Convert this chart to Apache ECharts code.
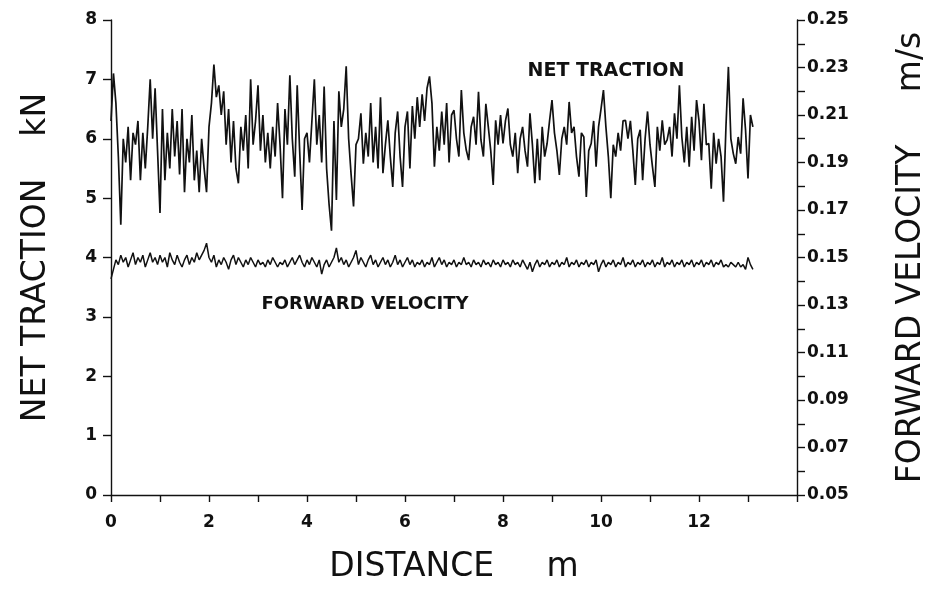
<!DOCTYPE html>
<html>
<head>
<meta charset="utf-8">
<script src="https://cdn.jsdelivr.net/npm/echarts@6/dist/echarts.min.js"></script>
<style>
html,body{margin:0;padding:0;background:#fff;overflow:hidden;}
#chart{width:926px;height:608px;}
</style>
</head>
<body>
<div id="chart"></div>
<script>
// Sampling step along distance (m)
const distanceStep = 0.05;

// Net traction, kN (one value every 0.05 m from 0 to 13.1 m)
const netTraction = [
6.3,7.1,6.6,5.7,4.55,6.0,5.6,6.2,5.3,6.1,5.9,6.3,5.3,6.1,5.5,6.2,7.0,6.0,6.85,5.8,
4.75,6.5,5.3,6.1,5.5,6.5,5.7,6.3,5.4,6.5,5.1,6.0,5.6,6.4,5.3,5.8,5.1,6.0,5.5,5.1,
6.2,6.6,7.25,6.7,6.9,6.4,6.8,5.9,6.5,5.6,6.3,5.5,5.25,6.2,5.8,6.4,5.5,7.0,5.9,6.3,
6.9,5.8,6.4,5.6,6.1,5.5,6.2,5.7,6.6,5.9,5.0,6.5,5.9,7.07,6.0,5.36,6.9,5.8,4.8,6.0,
6.1,5.6,6.3,7.0,5.9,6.4,5.6,6.88,5.5,4.9,4.45,6.3,4.97,6.8,6.2,6.5,7.22,6.0,5.4,4.86,
5.9,6.0,6.43,5.58,6.1,5.7,6.6,5.6,6.2,5.5,6.7,5.42,5.9,6.31,5.7,5.19,6.1,6.46,5.7,5.19,
6.2,6.46,5.5,6.55,6.0,6.7,6.2,6.75,6.3,6.85,7.05,6.6,5.53,6.2,5.8,6.46,5.9,6.6,5.6,6.4,
6.48,6.0,5.7,6.82,6.1,5.81,5.64,6.2,6.37,5.9,6.79,5.98,5.7,6.59,6.2,5.8,5.22,6.31,5.9,6.4,
5.92,6.3,6.51,5.9,5.7,6.1,5.42,6.0,6.2,5.8,5.53,6.43,5.9,5.25,6.0,5.3,6.2,5.7,5.92,6.3,
6.65,6.1,5.8,5.39,6.0,6.2,5.9,6.62,6.1,6.2,5.7,5.36,6.1,6.03,5.02,5.8,5.92,6.3,5.53,6.2,
6.5,6.82,6.2,5.7,5.0,5.9,5.7,6.1,5.8,6.3,6.31,6.0,6.3,5.8,5.22,6.0,6.15,5.3,6.0,6.46,
5.9,5.53,5.19,6.2,5.8,6.31,5.9,5.98,6.2,5.7,6.43,6.0,6.9,6.03,5.6,6.2,5.53,6.37,5.8,6.65,
6.3,5.64,6.59,5.9,5.92,5.16,6.1,5.58,6.0,5.7,4.94,6.2,7.21,6.0,5.75,5.58,6.03,5.75,6.68,6.15,
5.33,6.4,6.2
];

// Forward velocity, m/s (one value every 0.05 m from 0 to 13.1 m)
const forwardVelocity = [
0.141,0.145,0.149,0.147,0.151,0.148,0.150,0.146,0.149,0.152,0.147,0.150,0.148,0.151,0.146,0.149,0.152,0.148,0.150,0.147,
0.151,0.148,0.150,0.146,0.152,0.149,0.147,0.151,0.148,0.146,0.149,0.151,0.147,0.150,0.148,0.152,0.149,0.151,0.153,0.156,
0.150,0.148,0.151,0.146,0.149,0.147,0.150,0.148,0.145,0.149,0.151,0.147,0.150,0.148,0.146,0.149,0.147,0.150,0.148,0.146,
0.149,0.147,0.148,0.146,0.149,0.147,0.150,0.148,0.146,0.148,0.147,0.149,0.146,0.148,0.150,0.147,0.149,0.151,0.148,0.146,
0.149,0.147,0.150,0.148,0.146,0.149,0.143,0.147,0.149,0.146,0.148,0.150,0.154,0.148,0.150,0.147,0.149,0.146,0.148,0.150,
0.153,0.147,0.150,0.148,0.146,0.149,0.151,0.147,0.149,0.146,0.148,0.150,0.147,0.149,0.146,0.148,0.151,0.147,0.149,0.146,
0.148,0.150,0.147,0.149,0.146,0.148,0.147,0.149,0.146,0.148,0.147,0.150,0.146,0.148,0.150,0.147,0.149,0.146,0.148,0.147,
0.149,0.146,0.148,0.147,0.150,0.147,0.148,0.146,0.149,0.147,0.148,0.146,0.149,0.147,0.148,0.146,0.149,0.147,0.148,0.146,
0.149,0.147,0.148,0.146,0.149,0.147,0.148,0.146,0.149,0.147,0.145,0.148,0.144,0.147,0.149,0.146,0.148,0.147,0.149,0.146,
0.148,0.147,0.149,0.146,0.148,0.147,0.150,0.146,0.148,0.147,0.149,0.146,0.148,0.147,0.149,0.146,0.148,0.147,0.149,0.144,
0.147,0.149,0.146,0.148,0.147,0.149,0.146,0.148,0.147,0.150,0.146,0.148,0.147,0.149,0.146,0.148,0.147,0.149,0.146,0.148,
0.147,0.149,0.146,0.148,0.147,0.150,0.146,0.148,0.147,0.149,0.146,0.148,0.147,0.149,0.146,0.148,0.147,0.149,0.146,0.148,
0.147,0.149,0.146,0.148,0.147,0.149,0.146,0.148,0.147,0.149,0.146,0.147,0.146,0.148,0.147,0.146,0.148,0.146,0.147,0.145,
0.150,0.147,0.145
];

// Axis ranges
const xRange = [0, 14];
const tractionRange = [0, 8];
const velocityRange = [0.05, 0.25];

// Titles and annotation texts
const xTitle = 'DISTANCE     m';
const leftTitle = 'NET TRACTION    kN';
const rightTitle = 'FORWARD VELOCITY     m/s';
const annotationTexts = ['NET TRACTION', 'FORWARD VELOCITY'];

const tractionData = netTraction.map((v, i) => [+(i * distanceStep).toFixed(2), v]);
const velocityData = forwardVelocity.map((v, i) => [+(i * distanceStep).toFixed(2), v]);

const FONT = 'DejaVu Sans';
const INK = '#111';
const chart = echarts.init(document.getElementById('chart'), null, { renderer: 'canvas', width: 926, height: 608 });

const option = {
  animation: false,
  backgroundColor: '#fff',
  grid: { left: 111, right: 129, top: 20, bottom: 113, containLabel: false, outerBoundsMode: 'none' },
  xAxis: {
    type: 'value', min: xRange[0], max: xRange[1], interval: 1,
    name: xTitle, nameLocation: 'middle', nameGap: 56,
    nameTextStyle: { fontFamily: FONT, fontSize: 33, color: INK },
    axisLine: { lineStyle: { color: INK, width: 1.4 } },
    axisTick: { show: true, length: 7, lineStyle: { color: INK, width: 1.4 } },
    axisLabel: {
      margin: 19, fontFamily: FONT, fontSize: 17, fontWeight: 'bold', color: INK,
      formatter: v => (Math.round(v) % 2 === 0 && v < xRange[1]) ? String(Math.round(v)) : ''
    },
    splitLine: { show: false }
  },
  yAxis: [
    {
      type: 'value', min: tractionRange[0], max: tractionRange[1], interval: 1, position: 'left',
      name: leftTitle, nameLocation: 'middle', nameGap: 58, nameRotate: 90,
      nameTextStyle: { fontFamily: FONT, fontSize: 33, color: INK },
      axisLine: { show: true, lineStyle: { color: INK, width: 1.4 } },
      axisTick: { show: true, length: 8, lineStyle: { color: INK, width: 1.4 } },
      axisLabel: { margin: 14, fontFamily: FONT, fontSize: 17, fontWeight: 'bold', color: INK },
      splitLine: { show: false }
    },
    {
      type: 'value', min: velocityRange[0], max: velocityRange[1], interval: 0.01, position: 'right',
      name: rightTitle, nameLocation: 'middle', nameGap: 98, nameRotate: 90,
      nameTextStyle: { fontFamily: FONT, fontSize: 33, color: INK },
      axisLine: { show: true, lineStyle: { color: INK, width: 1.4 } },
      axisTick: { show: true, length: 8, lineStyle: { color: INK, width: 1.4 } },
      axisLabel: {
        margin: 10, fontFamily: FONT, fontSize: 17, fontWeight: 'bold', color: INK,
        formatter: v => { const h = Math.round(v * 100); return h % 2 === 1 ? (h / 100).toFixed(2) : ''; }
      },
      splitLine: { show: false }
    }
  ],
  series: [
    {
      name: 'NET TRACTION', type: 'line', yAxisIndex: 0, data: tractionData,
      showSymbol: false, symbol: 'none',
      lineStyle: { color: INK, width: 1.7 }, z: 3
    },
    {
      name: 'FORWARD VELOCITY', type: 'line', yAxisIndex: 1, data: velocityData,
      showSymbol: false, symbol: 'none',
      lineStyle: { color: INK, width: 1.5 }, z: 3
    }
  ]
};
chart.setOption(option);

// Annotation anchors in data units (distance m, traction kN)
const annotationAnchors = [[8.5, 7.12], [3.07, 3.2]];
const annotationSizes = [19, 18];
const graphics = annotationTexts.map((t, i) => {
  const p = chart.convertToPixel({ xAxisIndex: 0, yAxisIndex: 0 }, annotationAnchors[i]);
  return {
    type: 'text', left: p[0], top: p[1] - annotationSizes[i] / 2 - 1,
    style: { text: t, font: 'bold ' + annotationSizes[i] + 'px "DejaVu Sans"', fill: INK }
  };
});
chart.setOption({ graphic: graphics });
</script>
</body>
</html>
